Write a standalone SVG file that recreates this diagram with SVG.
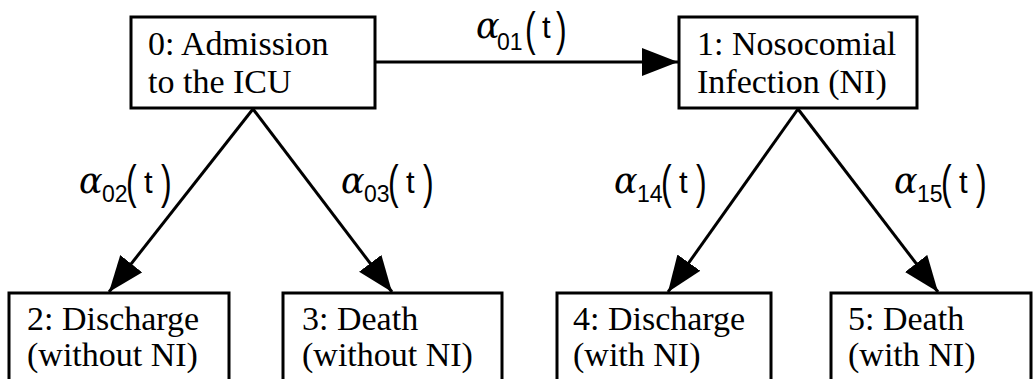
<svg xmlns="http://www.w3.org/2000/svg" width="1034" height="379" viewBox="0 0 1034 379">
<style>
.box{fill:#fff;stroke:#000;stroke-width:3}
.lbl{font-family:"Liberation Serif",serif;font-size:34px;fill:#000}
.edge{stroke:#000;stroke-width:3;fill:none;marker-end:url(#ah)}
.rate{font-family:"Liberation Sans",sans-serif;fill:#000}
.al{font-family:"DejaVu Serif",serif;font-style:italic;font-size:35px}
.sub{font-size:23px}
.par{font-family:"Liberation Sans",sans-serif;font-size:32px;fill:#000}
.t{font-size:31px}
</style>
<defs>
<marker id="ah" markerUnits="userSpaceOnUse" markerWidth="38" markerHeight="30" refX="36" refY="14" orient="auto" viewBox="0 0 38 30">
<path d="M0,0 L36,14 L0,28 z" fill="#000"/>
</marker>
</defs>
<g id="connectors">
<line class="edge" x1="376" y1="62" x2="678" y2="62"/>
<line class="edge" x1="253" y1="109" x2="109" y2="292"/>
<line class="edge" x1="253" y1="109" x2="392" y2="292"/>
<line class="edge" x1="798" y1="109" x2="668" y2="292"/>
<line class="edge" x1="798" y1="109" x2="938" y2="292"/>
</g>
<g id="node0"><rect class="box" x="131" y="17" width="244" height="91"/><text class="lbl" x="148" y="55">0: Admission</text><text class="lbl" x="148" y="93">to the ICU</text></g>
<g id="node1"><rect class="box" x="679" y="17" width="238" height="91"/><text class="lbl" x="697" y="55">1: Nosocomial</text><text class="lbl" x="697" y="93">Infection (NI)</text></g>
<g id="node2"><rect class="box" x="9" y="293" width="220" height="100"/><text class="lbl" x="27" y="330">2: Discharge</text><text class="lbl" x="27" y="366">(without NI)</text></g>
<g id="node3"><rect class="box" x="283" y="293" width="219" height="100"/><text class="lbl" x="302" y="330">3: Death</text><text class="lbl" x="302" y="366">(without NI)</text></g>
<g id="node4"><rect class="box" x="557" y="293" width="214" height="100"/><text class="lbl" x="573" y="330">4: Discharge</text><text class="lbl" x="573" y="366">(with NI)</text></g>
<g id="node5"><rect class="box" x="831" y="293" width="200" height="100"/><text class="lbl" x="848" y="330">5: Death</text><text class="lbl" x="848" y="366">(with NI)</text></g>
<g id="labels">
<g id="r01"><text class="rate"><tspan class="al" x="476" y="38">α</tspan><tspan class="sub" x="497" y="50">01</tspan><tspan class="t" x="542" y="38">t</tspan></text><text class="par" transform="translate(525,45) scale(1,1.45)">(</text><text class="par" transform="translate(556,45) scale(1,1.45)">)</text></g>
<g id="r02"><text class="rate"><tspan class="al" x="79" y="193">α</tspan><tspan class="sub" x="102" y="202">02</tspan><tspan class="t" x="144" y="193">t</tspan></text><text class="par" transform="translate(126,198) scale(1,1.45)">(</text><text class="par" transform="translate(161,198) scale(1,1.45)">)</text></g>
<g id="r03"><text class="rate"><tspan class="al" x="341" y="193">α</tspan><tspan class="sub" x="364" y="202">03</tspan><tspan class="t" x="406" y="193">t</tspan></text><text class="par" transform="translate(388,198) scale(1,1.45)">(</text><text class="par" transform="translate(423,198) scale(1,1.45)">)</text></g>
<g id="r14"><text class="rate"><tspan class="al" x="614" y="193">α</tspan><tspan class="sub" x="637" y="202">14</tspan><tspan class="t" x="679" y="193">t</tspan></text><text class="par" transform="translate(661,198) scale(1,1.45)">(</text><text class="par" transform="translate(696,198) scale(1,1.45)">)</text></g>
<g id="r15"><text class="rate"><tspan class="al" x="894" y="193">α</tspan><tspan class="sub" x="917" y="202">15</tspan><tspan class="t" x="959" y="193">t</tspan></text><text class="par" transform="translate(941,198) scale(1,1.45)">(</text><text class="par" transform="translate(976,198) scale(1,1.45)">)</text></g>
</g>
</svg>
